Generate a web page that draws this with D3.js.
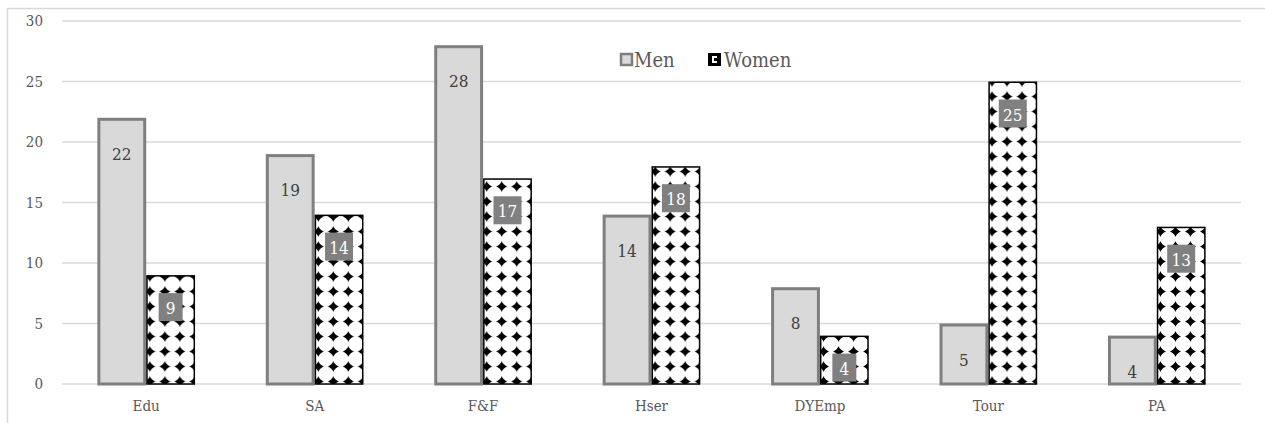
<!DOCTYPE html>
<html>
<head>
<meta charset="utf-8">
<script src="https://cdn.jsdelivr.net/npm/d3@7"></script>
<style>
  body { margin: 0; background: #fff; }
  svg text { font-family: "DejaVu Serif Condensed", "DejaVu Serif", serif !important; }
</style>
</head>
<body>
<script>
// data
var categories = ['Edu', 'SA', 'F&F', 'Hser', 'DYEmp', 'Tour', 'PA'];
var seriesNames = ['Men', 'Women'];
var menValues = [22, 19, 28, 14, 8, 5, 4];
var womenValues = [9, 14, 17, 18, 4, 25, 13];
var yTicks = [0, 5, 10, 15, 20, 25, 30];

// init
var W = 1265, H = 423,
    margin = { top: 21, right: 24, bottom: 39, left: 62 },
    width  = W - margin.left - margin.right,
    height = H - margin.top - margin.bottom;

var rows = categories.map(function(c, i) {
    return { cat: c, Men: menValues[i], Women: womenValues[i] };
});

var svg = d3.select('body').append('svg')
    .attr('width', W)
    .attr('height', H);

// women pattern: black diamonds on white
var defs = svg.append('defs');
var pat = defs.append('pattern')
    .attr('id', 'diamonds')
    .attr('patternUnits', 'userSpaceOnUse')
    .attr('x', 0).attr('y', -7)
    .attr('width', 15)
    .attr('height', 15);
pat.append('rect').attr('width', 15).attr('height', 15).attr('fill', '#fff');
pat.append('path')
    .attr('d', 'M7.5,2 L9,5.5 L13,7.5 L9,9.5 L7.5,13 L6,9.5 L2,7.5 L6,5.5 Z')
    .attr('fill', '#000');
pat.append('path')
    .attr('d', 'M7.5,3.2 L11.8,7.5 L7.5,11.8 L3.2,7.5 Z')
    .attr('fill', '#000');

// outer border
svg.append('rect')
    .attr('x', 7.5).attr('y', 8.5)
    .attr('width', W + 10).attr('height', H + 10)
    .attr('fill', 'none')
    .attr('stroke', '#d9d9d9')
    .attr('stroke-width', 1.5);

var g = svg.append('g')
    .attr('transform', 'translate(' + margin.left + ',' + margin.top + ')');

// scales
var x0 = d3.scaleBand().domain(categories).range([0, width]).paddingInner(0.42).paddingOuter(0.21);
var x1 = d3.scaleBand().domain(seriesNames).range([0, x0.bandwidth()]);
var y = d3.scaleLinear().domain([0, 30]).range([height, 0]);

// gridlines
g.append('g')
    .selectAll('line')
    .data(yTicks)
    .enter().append('line')
    .attr('x1', 0).attr('x2', width)
    .attr('y1', function(d) { return y(d); })
    .attr('y2', function(d) { return y(d); })
    .attr('stroke', '#d9d9d9')
    .attr('stroke-width', 1.5);

// y axis labels
var yAxis = g.append('g')
    .call(d3.axisLeft(y).tickValues(yTicks).tickSize(0).tickPadding(19));
yAxis.select('.domain').remove();
yAxis.selectAll('text')
    .attr('fill', '#595959')
    .style('font-size', '15px');

// x axis labels
var xAxis = g.append('g')
    .attr('transform', 'translate(0,' + height + ')')
    .call(d3.axisBottom(x0).tickSize(0).tickPadding(16));
xAxis.select('.domain').remove();
xAxis.selectAll('text')
    .attr('fill', '#595959')
    .style('font-size', '15px');

// bars
var groups = g.selectAll('.grp')
    .data(rows)
    .enter().append('g')
    .attr('class', 'grp')
    .attr('transform', function(d) { return 'translate(' + x0(d.cat) + ',0)'; });

groups.append('rect')
    .attr('x', x1('Men') + 1.5)
    .attr('y', function(d) { return y(d.Men) + 1.5; })
    .attr('width', x1.bandwidth() - 3)
    .attr('height', function(d) { return height - y(d.Men) - 1.5; })
    .attr('fill', '#d9d9d9')
    .attr('stroke', '#7f7f7f')
    .attr('stroke-width', 3);

groups.append('rect')
    .attr('x', x1('Women') + 0.75)
    .attr('y', function(d) { return y(d.Women) + 0.75; })
    .attr('width', x1.bandwidth() - 1.5)
    .attr('height', function(d) { return height - y(d.Women) - 0.75; })
    .attr('fill', 'url(#diamonds)')
    .attr('stroke', '#000')
    .attr('stroke-width', 1.5);

// men labels
groups.append('text')
    .attr('x', x1('Men') + x1.bandwidth() / 2)
    .attr('y', function(d) { return y(d.Men) + 36; })
    .attr('text-anchor', 'middle')
    .attr('dominant-baseline', 'central')
    .attr('fill', '#404040')
    .style('font-size', '17px')
    .text(function(d) { return d.Men; });

// women labels with box
groups.each(function(d) {
    var cx = x1('Women') + x1.bandwidth() / 2,
        cy = y(d.Women) + 32,
        w = String(d.Women).length > 1 ? 28 : 24;
    d3.select(this).append('rect')
        .attr('x', cx - w / 2).attr('y', cy - 14)
        .attr('width', w).attr('height', 28)
        .attr('fill', '#808080');
    d3.select(this).append('text')
        .attr('x', cx).attr('y', cy + 1)
        .attr('text-anchor', 'middle')
        .attr('dominant-baseline', 'central')
        .attr('fill', '#fff')
        .style('font-size', '17px')
        .text(d.Women);
});

// legend
var legend = svg.append('g').attr('transform', 'translate(620,53)');
legend.append('rect')
    .attr('x', 1).attr('y', 1).attr('width', 11).attr('height', 11)
    .attr('fill', '#d9d9d9').attr('stroke', '#7f7f7f').attr('stroke-width', 2.5);
legend.append('text')
    .attr('x', 14).attr('y', 7).attr('dominant-baseline', 'central')
    .attr('fill', '#595959').style('font-size', '20px').text('Men');
legend.append('rect')
    .attr('x', 88).attr('y', 0).attr('width', 13).attr('height', 13)
    .attr('fill', '#000');
legend.append('path')
    .attr('d', 'M92,3 h5 v2 h-3 v3 h3 v2 h-5 Z')
    .attr('fill', '#fff');
legend.append('text')
    .attr('x', 104).attr('y', 7).attr('dominant-baseline', 'central')
    .attr('fill', '#595959').style('font-size', '20px').text('Women');
</script>
</body>
</html>
